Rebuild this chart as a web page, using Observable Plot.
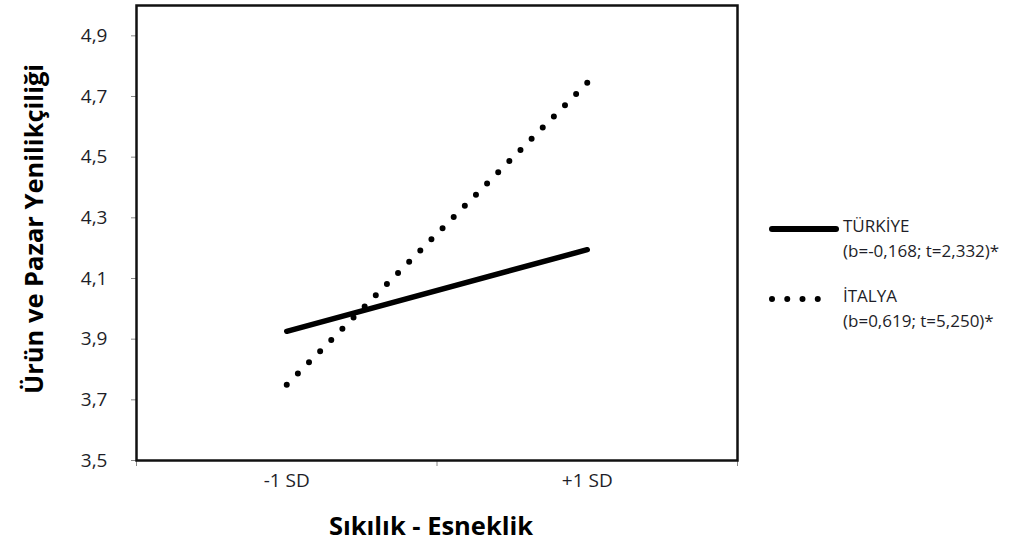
<!DOCTYPE html>
<html>
<head>
<meta charset="utf-8">
<script src="https://cdn.jsdelivr.net/npm/d3@7"></script>
<script src="https://cdn.jsdelivr.net/npm/@observablehq/plot@0.6"></script>
<style>
  html, body { margin: 0; padding: 0; background: #fff; }
  #wrap { position: relative; width: 1025px; height: 553px; font-family: "Open Sans", sans-serif; }
  .lg { position: absolute; font-size: 17px; color: #1e1e28; line-height: 1; white-space: nowrap; }
  .lgsym { position: absolute; }
</style>
</head>
<body>
<div id="wrap"></div>
<script>
// Data
const categories = ["-1 SD", "+1 SD"];
const turkiye = [3.926, 4.195];
const italya = [3.75, 4.745];
const yTicks = [3.5, 3.7, 3.9, 4.1, 4.3, 4.5, 4.7, 4.9];
const yTitle = "Ürün ve Pazar Yenilikçiliği";
const xTitle = "Sıkılık - Esneklik";
const seriesNames = ["TÜRKİYE", "İTALYA"];
const seriesStats = ["(b=-0,168; t=2,332)*", "(b=0,619; t=5,250)*"];

const rowsT = categories.map((c, i) => ({pos: i + 0.5, v: turkiye[i]}));
const rowsI = categories.map((c, i) => ({pos: i + 0.5, v: italya[i]}));
const fmt = d => d.toFixed(1).replace(".", ",");

const chart = Plot.plot({
  width: 1025,
  height: 553,
  marginLeft: 136,
  marginRight: 288,
  marginTop: 5,
  marginBottom: 93,
  style: {fontFamily: "Open Sans, sans-serif", fontSize: "19px", background: "#fff", color: "#1e1e28"},
  x: {domain: [0, categories.length]},
  y: {domain: [3.5, 5.0]},
  marks: [
    Plot.axisY({ticks: yTicks, tickFormat: fmt, tickSize: 5, tickPadding: 24, fontSize: 19, label: null, stroke: "#888"}),
    Plot.axisX({ticks: d3.range(categories.length + 1), tickFormat: () => "", tickSize: 6, label: null, stroke: "#888"}),
    Plot.axisX({ticks: categories.map((c, i) => i + 0.5), tickFormat: d => categories[Math.round(d - 0.5)], tickSize: 0, tickPadding: 13, fontSize: 19, label: null}),
    Plot.frame({stroke: "#111", strokeWidth: 2.5}),
    Plot.line(rowsT, {x: "pos", y: "v", stroke: "#000", strokeWidth: 5.5, strokeLinecap: "round"}),
    Plot.line(rowsI, {x: "pos", y: "v", stroke: "#000", strokeWidth: 6, strokeLinecap: "round", strokeDasharray: "0 1"}),
    Plot.text([yTitle], {text: d => d, frameAnchor: "left", rotate: -90, dx: -102, dy: -4, fontSize: 25.5, fontWeight: "bold", fill: "#000", textAnchor: "middle"}),
    Plot.text([xTitle], {text: d => d, frameAnchor: "bottom", dx: -6, dy: 74, fontSize: 25.5, fontWeight: "bold", fill: "#000", textAnchor: "middle"})
  ]
});

// make the dotted series end exactly on a dot: 27 gaps along the path
chart.querySelectorAll('[stroke-dasharray="0 1"]').forEach(el => {
  const paths = el.tagName === "path" ? [el] : el.querySelectorAll("path");
  paths.forEach(p => p.setAttribute("pathLength", "27"));
});
chart.querySelectorAll('g[aria-label$="tick label"]').forEach(g => g.setAttribute("font-size", "19"));

const wrap = document.getElementById("wrap");
wrap.appendChild(chart);

const symTops = [219, 289];
seriesNames.forEach((name, i) => {
  const sym = document.createElement("div");
  sym.className = "lgsym";
  sym.style.left = "766px";
  sym.style.top = symTops[i] + "px";
  const dash = i === 0 ? "" : 'stroke-dasharray="0 15.25"';
  sym.innerHTML = `<svg width="74" height="14"><line x1="6" y1="7" x2="${i === 0 ? 70 : 67}" y2="7" stroke="#000" stroke-width="6" stroke-linecap="round" ${dash}/></svg>`;
  wrap.appendChild(sym);
  const t1 = document.createElement("div");
  t1.className = "lg";
  t1.style.left = "843px";
  t1.style.top = (symTops[i] - 2) + "px";
  t1.textContent = name;
  wrap.appendChild(t1);
  const t2 = document.createElement("div");
  t2.className = "lg";
  t2.style.left = "843px";
  t2.style.top = (symTops[i] + 23) + "px";
  t2.textContent = seriesStats[i];
  wrap.appendChild(t2);
});
</script>
</body>
</html>
